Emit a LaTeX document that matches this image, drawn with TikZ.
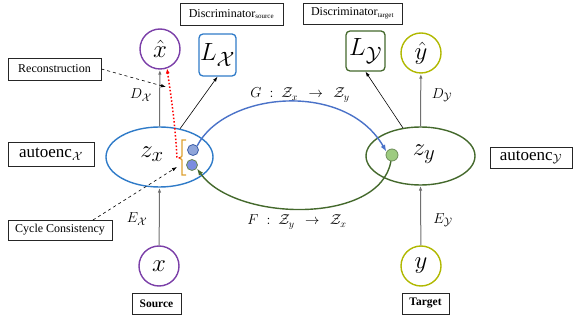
\documentclass[tikz,border=0pt]{standalone}
\usepackage{fontspec}
\setmainfont{Liberation Serif}
\usetikzlibrary{shapes.geometric,arrows.meta}
\definecolor{purp}{HTML}{7B3FA8}
\definecolor{bluel}{HTML}{2F7BC8}
\definecolor{ygr}{HTML}{B0B800}
\definecolor{dgr}{HTML}{44692C}
\definecolor{gblue}{HTML}{4A72C8}
\definecolor{dotb}{HTML}{8FA5DA}
\definecolor{dotbd}{HTML}{3D5FA8}
\definecolor{dotg}{HTML}{9DCB80}
\definecolor{brk}{HTML}{DDA030}
\definecolor{arrg}{HTML}{707070}
\begin{document}
\begin{tikzpicture}[x=1pt,y=-1pt,
  tbox/.style={draw=black!85,line width=0.8pt,inner sep=0pt,font=\fontsize{12}{14}\selectfont},
  circ/.style={circle,line width=1.4pt,inner sep=0pt,minimum size=40pt,font=\fontsize{24.88}{28}\selectfont},
  lbox/.style={rounded corners=4pt,line width=1.3pt,inner sep=0pt,font=\fontsize{24.88}{28}\selectfont},
  ell/.style={ellipse,line width=1.4pt,inner sep=0pt},
  mlab/.style={inner sep=0pt,font=\fontsize{15}{18}\selectfont},
  dotn/.style={circle,inner sep=0pt,minimum size=11pt,line width=0.8pt},
  tip/.style={-{Latex[length=5pt,width=3.5pt]}},
  garr/.style={tip,draw=arrg,line width=1pt},
  karr/.style={tip,draw=black,line width=0.6pt}]
\useasboundingbox (0,0) rectangle (573,320);

% top boxes
\node[tbox,minimum width=103pt,minimum height=22pt] (dsrc) at (231.5,14) {Discriminator\textsubscript{\fontsize{7}{8}\selectfont source}};
\node[tbox,minimum width=99pt,minimum height=21pt] (dtgt) at (352.5,13.5) {Discriminator\textsubscript{\fontsize{7}{8}\selectfont target}};
\node[tbox,minimum width=93pt,minimum height=22pt] (rec) at (54.5,69) {Reconstruction};
\node[tbox,minimum width=86pt,minimum height=24pt,font=\fontsize{17}{20}\selectfont] (aex) at (51,154) {autoenc$_{\mathcal{X}}$};
\node[tbox,minimum width=82pt,minimum height=21pt,font=\fontsize{17}{20}\selectfont] (aey) at (531,157.5) {autoenc$_{\mathcal{Y}}$};
\node[tbox,minimum width=104pt,minimum height=20pt] (cyc) at (60,230) {Cycle Consistency};
\node[tbox,minimum width=49pt,minimum height=21pt,font=\fontsize{11.5}{14}\bfseries] (src) at (156.5,303.5) {Source};
\node[tbox,minimum width=47pt,minimum height=21pt,font=\fontsize{11.5}{14}\bfseries] (tgt) at (425.5,303.5) {Target};

% circles
\node[circ,draw=purp] (xhat) at (160,49) {$\hat{x}$};
\node[circ,draw=purp] (x) at (159,266) {$x$};
\node[circ,draw=ygr] (yhat) at (421,53) {$\hat{y}$};
\node[circ,draw=ygr] (y) at (421,266) {$y$};

% L boxes
\node[lbox,draw=bluel,minimum width=37pt,minimum height=42pt] (lx) at (217.5,55) {$L_{\mathcal{X}}$};
\node[lbox,draw=dgr,minimum width=39pt,minimum height=40pt] (ly) at (365.5,51) {$L_{\mathcal{Y}}$};

% ellipses
\node[ell,draw=bluel,minimum width=107pt,minimum height=60pt] (ex) at (159.5,157) {};
\node[ell,draw=dgr,minimum width=109pt,minimum height=58pt] (ey) at (420.5,156) {};
\node[mlab,font=\fontsize{24.88}{28}\selectfont] (zx) at (152,154) {$z_x$};
\node[mlab,font=\fontsize{24.88}{28}\selectfont] (zy) at (424,154) {$z_y$};

% dots and bracket
\node[dotn,fill=dotb,draw=dotbd] (d1) at (193,150) {};
\node[dotn,fill=dotb!85!blue,draw=dgr!80] (d2) at (192,165) {};
\node[dotn,fill=dotg,draw=dotg!70!black,minimum size=12pt] (d3) at (392,155) {};
\draw[brk,line width=1.2pt] (186,140) -- (182,140) -- (182,156) -- (180,158) -- (182,160) -- (182,175) -- (186,175);
\coordinate (brkl) at (180,158);

% labels
\node[mlab] (dxl) at (141,95) {$D_{\mathcal{X}}$};
\node[mlab] (exl) at (137,219) {$E_{\mathcal{X}}$};
\node[mlab] (dyl) at (442,95) {$D_{\mathcal{Y}}$};
\node[mlab] (eyl) at (443,220) {$E_{\mathcal{Y}}$};
\node[mlab,font=\fontsize{14.4}{17}\selectfont] (gl) at (300,95) {$G\;:\;\mathcal{Z}_x\;\,\rightarrow\;\,\mathcal{Z}_y$};
\node[mlab,font=\fontsize{14.4}{17}\selectfont] (fl) at (297,222) {$F\;:\;\mathcal{Z}_y\;\,\rightarrow\;\,\mathcal{Z}_x$};

% vertical arrows
\draw[garr] (x) -- (ex.south);
\draw[garr] (ex.north) -- (xhat);
\draw[garr] (y) -- (ey.south);
\draw[garr] (ey.north) -- (yhat);
\draw[karr] (ex.54) -- (lx.south);
\draw[karr] (ey.122) -- (ly.south);

% mapping curves
\draw[gblue,line width=1.4pt,-{Latex[length=7pt,width=5pt]}] (d1.45) .. controls (225,92) and (345,80) .. (d3.150);
\draw[dgr,line width=1.4pt,-{Latex[length=7pt,width=5pt]}] (d3.-100) .. controls (380,225) and (235,222) .. (d2.-35);

% red dotted reconstruction path
\draw[red,dotted,line width=1.5pt,-{Latex[length=5pt,width=4pt]}] (brkl) -- ++(-3,0) .. controls (175,120) and (170,90) .. (xhat.-70);

% dashed callouts
\coordinate (rece) at (166,87);
\draw[dashed,line width=0.6pt,tip] (rec.east) -- (rece);
\coordinate (cycs) at (93,220);
\coordinate (cyce) at (177,167);
\draw[dashed,line width=0.6pt,tip] (cycs) -- (cyce);
\end{tikzpicture}
\end{document}
